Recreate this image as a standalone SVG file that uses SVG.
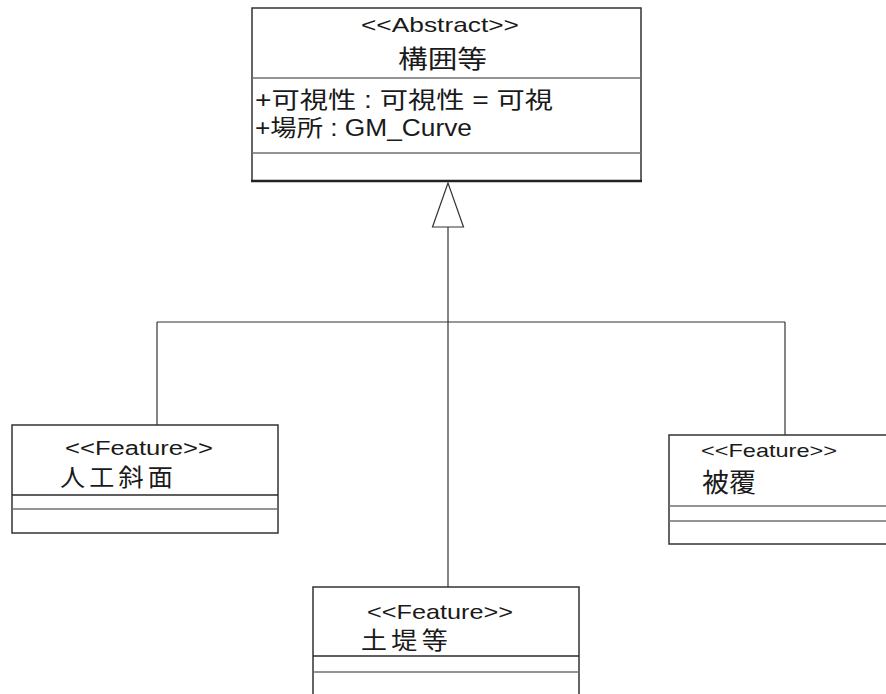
<svg xmlns="http://www.w3.org/2000/svg" width="886" height="694" viewBox="0 0 886 694">
  <style>
    .box { fill: #ffffff; stroke: #333333; stroke-width: 1.5; }
    .div { stroke: #707070; stroke-width: 1.5; fill: none; }
    .div2 { stroke: #2a2a2a; stroke-width: 1.5; fill: none; }
    .edge { stroke: #333333; stroke-width: 1.2; fill: none; }
    .head { fill: #ffffff; stroke: #333333; stroke-width: 1.2; }
    text { font-family: "Liberation Sans", "Noto Sans CJK JP", sans-serif; fill: #1a1a1a; }
  </style>
  <rect width="886" height="694" fill="#ffffff"/>

  <!-- generalization connectors -->
  <g id="connectors">
    <line class="edge" x1="448" y1="227" x2="448" y2="587"/>
    <line class="edge" x1="157" y1="322" x2="785" y2="322"/>
    <line class="edge" x1="157" y1="322" x2="157" y2="425"/>
    <line class="edge" x1="785" y1="322" x2="785" y2="435"/>
    <polygon class="head" points="448,183 432.5,227 463.5,227"/>
  </g>

  <!-- abstract base class -->
  <g id="kouiTou">
    <rect class="box" x="252" y="8" width="389" height="173"/>
    <line class="div" x1="252" y1="78" x2="641" y2="78"/>
    <line class="div" x1="252" y1="153" x2="641" y2="153"/>
    <line x1="251" y1="181" x2="642" y2="181" stroke="#222222" stroke-width="2.5"/>
    <text x="361" y="32" font-size="21" textLength="158" lengthAdjust="spacingAndGlyphs">&lt;&lt;Abstract&gt;&gt;</text>
    <text x="398" y="68" font-size="25" textLength="89" lengthAdjust="spacingAndGlyphs">構囲等</text>
    <text x="255" y="108" font-size="23" textLength="298" lengthAdjust="spacingAndGlyphs">+可視性 : 可視性 = 可視</text>
    <text x="255" y="136" font-size="23" textLength="217" lengthAdjust="spacingAndGlyphs">+場所 : GM_Curve</text>
  </g>

  <!-- feature: artificial slope -->
  <g id="jinkouShamen">
    <rect class="box" x="12" y="425" width="266" height="108"/>
    <line class="div2" x1="12" y1="495" x2="278" y2="495"/>
    <line class="div" x1="12" y1="509" x2="278" y2="509"/>
    <text x="65" y="455" font-size="20" textLength="148" lengthAdjust="spacingAndGlyphs">&lt;&lt;Feature&gt;&gt;</text>
    <text x="60" y="486" font-size="24" textLength="117" lengthAdjust="spacingAndGlyphs" letter-spacing="4">人工斜面</text>
  </g>

  <!-- feature: embankment -->
  <g id="doteiTou">
    <rect class="box" x="313" y="587" width="266" height="120"/>
    <line class="div2" x1="313" y1="656" x2="579" y2="656"/>
    <line class="div" x1="313" y1="672" x2="579" y2="672"/>
    <text x="367" y="619" font-size="21" textLength="146" lengthAdjust="spacingAndGlyphs">&lt;&lt;Feature&gt;&gt;</text>
    <text x="361" y="649" font-size="24" textLength="91" lengthAdjust="spacingAndGlyphs" letter-spacing="4">土堤等</text>
  </g>

  <!-- feature: covering -->
  <g id="hifuku">
    <rect class="box" x="669" y="435" width="230" height="109"/>
    <line class="div" x1="669" y1="506" x2="886" y2="506"/>
    <line class="div" x1="669" y1="521" x2="886" y2="521"/>
    <text x="701" y="457" font-size="19" textLength="136" lengthAdjust="spacingAndGlyphs">&lt;&lt;Feature&gt;&gt;</text>
    <text x="702" y="492" font-size="26" textLength="54" lengthAdjust="spacingAndGlyphs">被覆</text>
  </g>
</svg>
